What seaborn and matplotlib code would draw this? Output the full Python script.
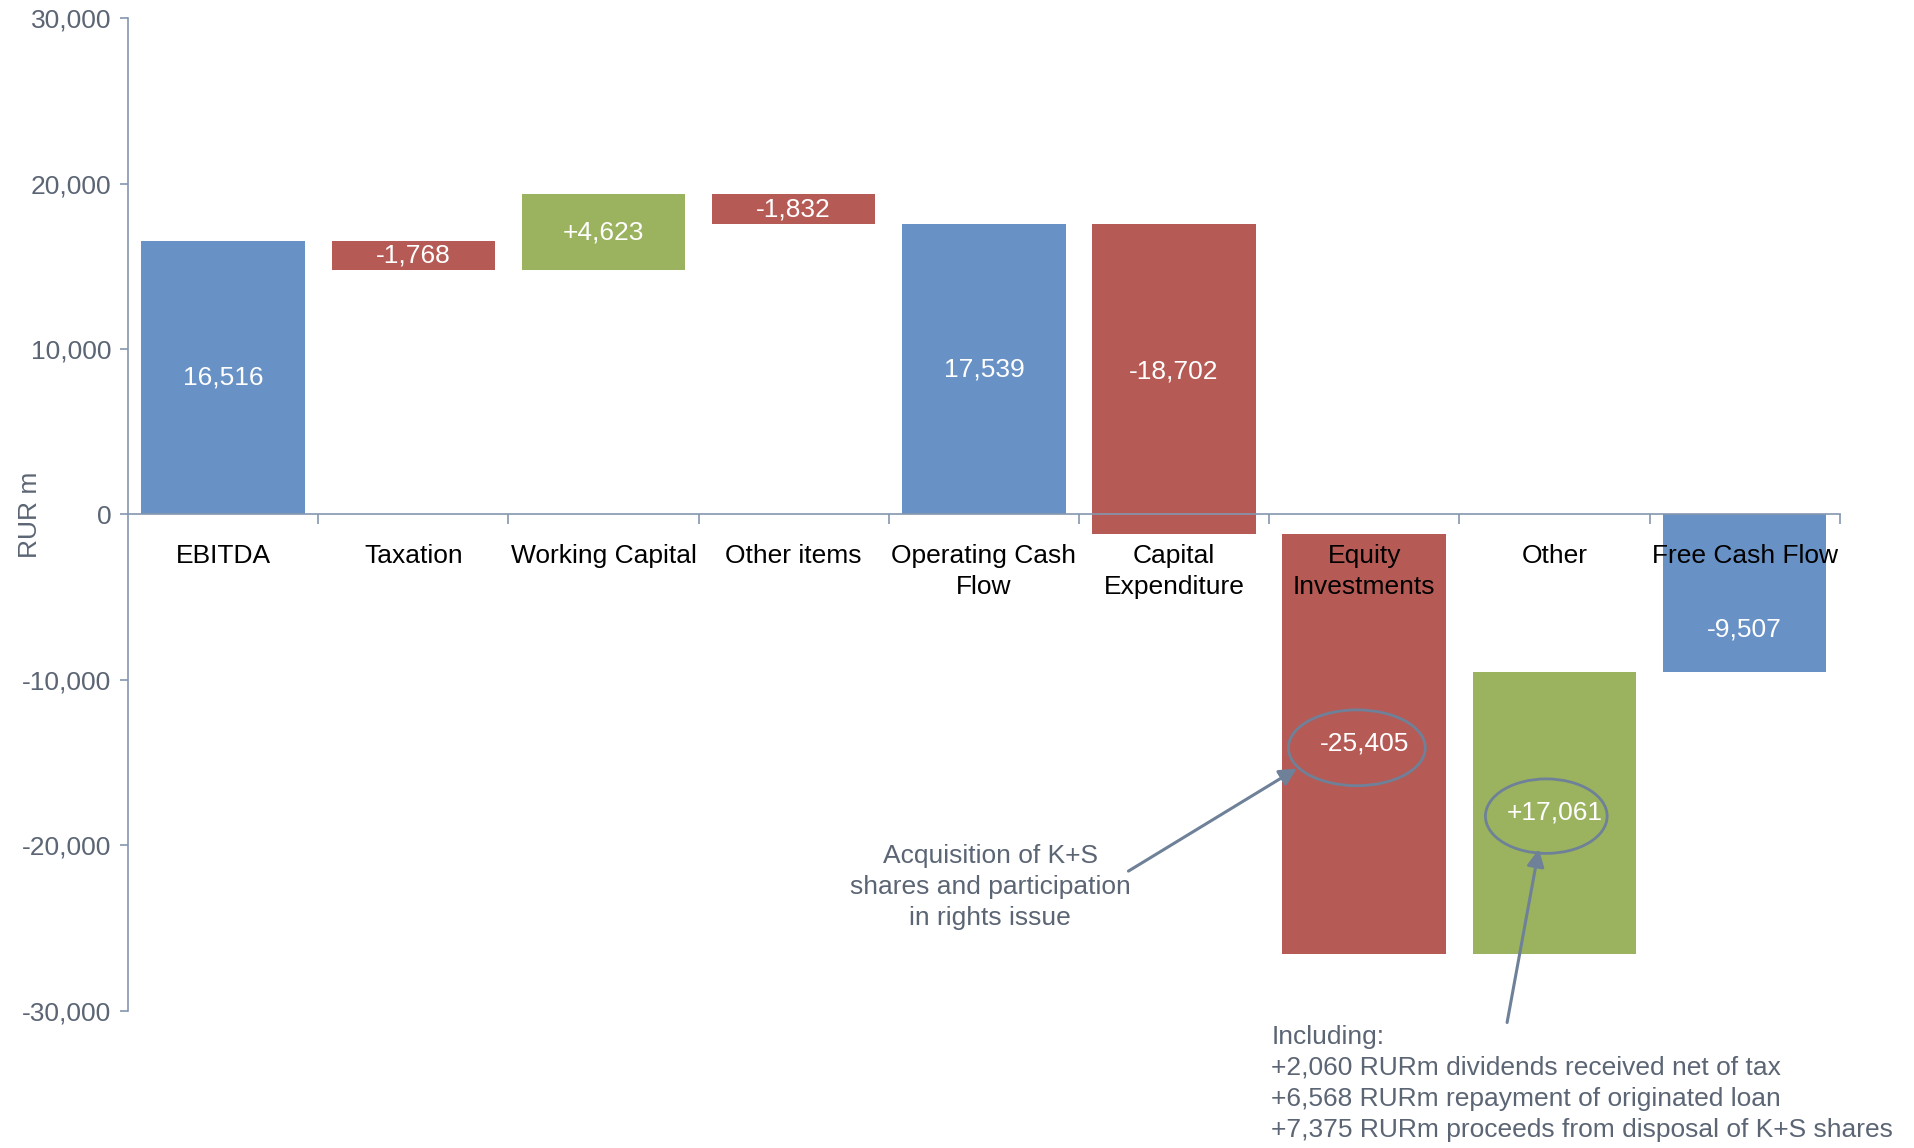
import numpy as np
import matplotlib
matplotlib.use("Agg")
import matplotlib.pyplot as plt
from matplotlib.patches import Ellipse
from matplotlib.ticker import FixedLocator, FuncFormatter
import seaborn as sns

# Cash flow bridge, RUR m
categories = ["EBITDA", "Taxation", "Working Capital", "Other items",
              "Operating Cash\nFlow", "Capital\nExpenditure", "Equity\nInvestments",
              "Other", "Free Cash Flow"]
deltas = [16516, -1768, 4623, -1832, 17539, -18702, -25405, 17061, -9507]
kinds = ["total", "change", "change", "change", "total", "change", "change", "change", "total"]

acq_note = "Acquisition of K+S\nshares and participation\nin rights issue"
other_note = ("Including:\n"
              "+2,060 RURm dividends received net of tax\n"
              "+6,568 RURm repayment of originated loan\n"
              "+7,375 RURm proceeds from disposal of K+S shares")

BLUE, RED, GREEN = "#6891C6", "#B65A55", "#9BB35E"
TEXT_GREY = "#5B6574"
LINE_GREY = "#8496AE"
NOTE_LINE = "#6E8199"

# running positions of the waterfall
starts = []
level = 0
for d, k in zip(deltas, kinds):
    if k == "total":
        starts.append(0)
        level = d
    else:
        starts.append(level)
        level += d

def bar_colour(d, k):
    if k == "total":
        return BLUE
    return GREEN if d > 0 else RED

def value_text(d, k):
    s = f"{abs(d):,}"
    if k == "total":
        return f"-{s}" if d < 0 else s
    return f"+{s}" if d > 0 else f"-{s}"

sns.set_theme(style="white")
plt.rcParams["font.family"] = ["Liberation Sans", "DejaVu Sans"]

fig = plt.figure(figsize=(19.14, 11.48), dpi=100)
ax = fig.add_axes([0.0669, 0.1194, 0.8943, 0.8649])

sns.barplot(x=categories, y=deltas, order=categories, width=0.86,
            color=BLUE, errorbar=None, saturation=1, ax=ax)

for p, s, d, k in zip(ax.patches, starts, deltas, kinds):
    p.set_y(s)
    p.set_height(d)
    p.set_facecolor(bar_colour(d, k))
    p.set_edgecolor("none")
    p.set_linewidth(0)

# value labels inside the bars
label_nudge = {"Free Cash Flow": -2200, "Capital\nExpenditure": 450}
for i, (s, d, k, c) in enumerate(zip(starts, deltas, kinds, categories)):
    y = s + d / 2 + label_nudge.get(c, 0)
    ax.text(i, y, value_text(d, k), ha="center", va="center",
            color="white", fontsize=19, zorder=4)

ax.set_ylim(-30000, 30000)
ax.set_xlim(-0.5, len(categories) - 0.5)
ax.set_yticks(np.arange(-30000, 30001, 10000))
ax.yaxis.set_major_formatter(FuncFormatter(lambda v, _: f"{int(v):,}"))

for side in ("top", "right"):
    ax.spines[side].set_visible(False)
ax.spines["bottom"].set_position(("data", 0))
ax.spines["bottom"].set_color(LINE_GREY)
ax.spines["left"].set_color(LINE_GREY)
ax.spines["bottom"].set_linewidth(1.2)
ax.spines["left"].set_linewidth(1.2)
ax.set_axisbelow(False)

ax.tick_params(axis="y", which="major", direction="out", length=6, width=1.2,
               color=LINE_GREY, labelcolor=TEXT_GREY, labelsize=19, pad=6, left=True)
ax.tick_params(axis="x", which="major", length=0, labelsize=19,
               labelcolor="black", pad=21)
ax.xaxis.set_minor_locator(FixedLocator(np.arange(0.5, len(categories), 1.0)))
ax.tick_params(axis="x", which="minor", direction="out", length=7, width=1.2,
               color=LINE_GREY, bottom=True)
for lab in ax.get_xticklabels():
    lab.set_multialignment("center")
    lab.set_linespacing(1.38)
    lab.set_zorder(5)

ax.set_xlabel("")
ax.set_ylabel("RUR m", fontsize=19, color=TEXT_GREY)
ax.yaxis.set_label_coords(-0.050, 0.5)
ax.grid(False)

# highlights around the two investment flows
ax.add_patch(Ellipse((5.961, -14100), 0.72, 4580, fill=False,
                     edgecolor=NOTE_LINE, lw=2, zorder=4))
ax.add_patch(Ellipse((6.957, -18230), 0.64, 4500, fill=False,
                     edgecolor=NOTE_LINE, lw=2, zorder=4))

arrow_kw = dict(arrowstyle="-|>", color=NOTE_LINE, lw=2.2, mutation_scale=26,
                shrinkA=0, shrinkB=0)
ax.annotate("", xy=(5.646, -15350), xytext=(4.760, -21550),
            arrowprops=arrow_kw, annotation_clip=False, zorder=4)
ax.annotate("", xy=(6.918, -20220), xytext=(6.751, -30700),
            arrowprops=arrow_kw, annotation_clip=False, zorder=4)

ax.text(4.034, -22510, acq_note, ha="center", va="center", multialignment="center",
        color=TEXT_GREY, fontsize=19, linespacing=1.38, zorder=4)
ax.text(5.512, -34390, other_note, ha="left", va="center", multialignment="left",
        color=TEXT_GREY, fontsize=19, linespacing=1.38, clip_on=False, zorder=4)

fig.savefig("out.png", dpi=100, facecolor="white")
